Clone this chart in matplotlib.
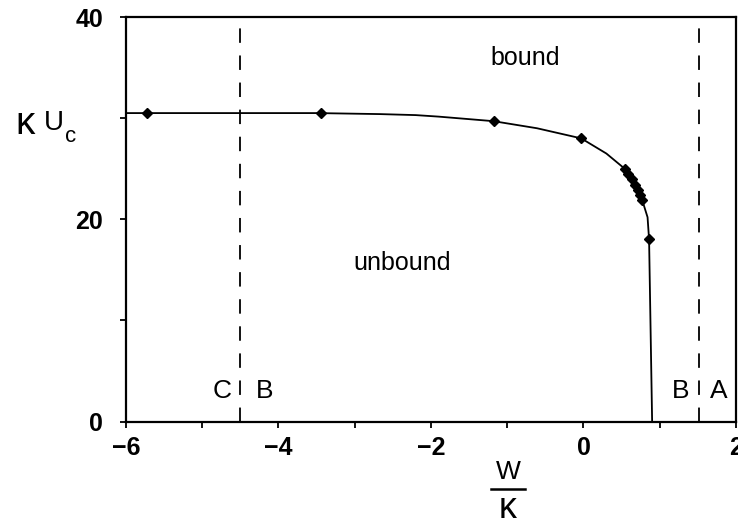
import matplotlib

matplotlib.use("Agg")
import matplotlib.pyplot as plt
from matplotlib.ticker import MultipleLocator

plt.rcParams["font.family"] = ["Liberation Sans", "DejaVu Sans"]

# critical line kappa*U_c vs W/kappa
curve_x = [-6.0, -4.0, -3.5, -2.67, -2.2, -1.9, -1.18, -0.61, -0.03, 0.30,
           0.54, 0.66, 0.77, 0.84, 0.86, 0.90]
curve_y = [30.5, 30.5, 30.5, 30.4, 30.3, 30.15, 29.7, 29.0, 28.0, 26.5,
           25.0, 23.7, 21.9, 20.2, 18.0, 0.0]

# computed points (diamonds)
pts_x = [-5.72, -3.44, -1.18, -0.03, 0.54, 0.59, 0.63, 0.67, 0.71, 0.74, 0.77, 0.86]
pts_y = [30.5, 30.5, 29.7, 28.0, 25.0, 24.5, 24.0, 23.4, 22.9, 22.4, 21.9, 18.0]

# phase boundaries (dashed)
boundaries = [-4.5, 1.52]

region_labels = [("bound", -0.77, 35.9, 18), ("unbound", -2.38, 15.7, 18),
                 ("C", -4.74, 3.0, 19), ("B", -4.18, 3.0, 19),
                 ("B", 1.28, 3.0, 19), ("A", 1.78, 3.0, 19)]

fig = plt.figure(figsize=(7.38, 5.30), dpi=100)
ax = fig.add_axes([0.1707, 0.2047, 0.8266, 0.7632])

ax.plot(curve_x, curve_y, color="black", lw=1.3)
ax.plot(pts_x, pts_y, ls="none", marker="D", ms=5.5, color="black")
for b in boundaries:
    ax.vlines(b, 0, 39, color="black", lw=1.3, linestyles=[(0, (8, 7))])

for txt, x, y, fs in region_labels:
    ax.text(x, y, txt, ha="center", va="center", fontsize=fs)

ax.set_xlim(-6, 2)
ax.set_ylim(0, 40)
ax.xaxis.set_major_locator(MultipleLocator(2))
ax.xaxis.set_minor_locator(MultipleLocator(1))
ax.yaxis.set_major_locator(MultipleLocator(20))
ax.yaxis.set_minor_locator(MultipleLocator(10))
ax.tick_params(which="both", direction="out", width=1.3, length=4.5, labelsize=18)
ax.tick_params(axis="x", pad=6)
ax.tick_params(axis="y", pad=12)
for lab in ax.get_xticklabels() + ax.get_yticklabels():
    lab.set_fontweight("bold")
for s in ax.spines.values():
    s.set_linewidth(1.6)

# y label: kappa U_c
fig.text(15 / 738, 1 - 124 / 530, "\u03ba", fontsize=28, ha="left", va="center")
fig.text(44 / 738, 1 - 123 / 530, "U", fontsize=20, ha="left", va="center")
fig.text(65 / 738, 1 - 137 / 530, "c", fontsize=16, ha="left", va="center")

# x label: W over kappa
xc = 508 / 738
fig.text(xc, 1 - 472 / 530, "W", fontsize=19, ha="center", va="center")
fig.add_artist(plt.Line2D([xc - 0.023, xc + 0.023], [1 - 489 / 530] * 2,
                          color="black", lw=1.8))
fig.text(xc, 1 - 508 / 530, "\u03ba", fontsize=26, ha="center", va="center")

fig.savefig("out.png", dpi=100)
